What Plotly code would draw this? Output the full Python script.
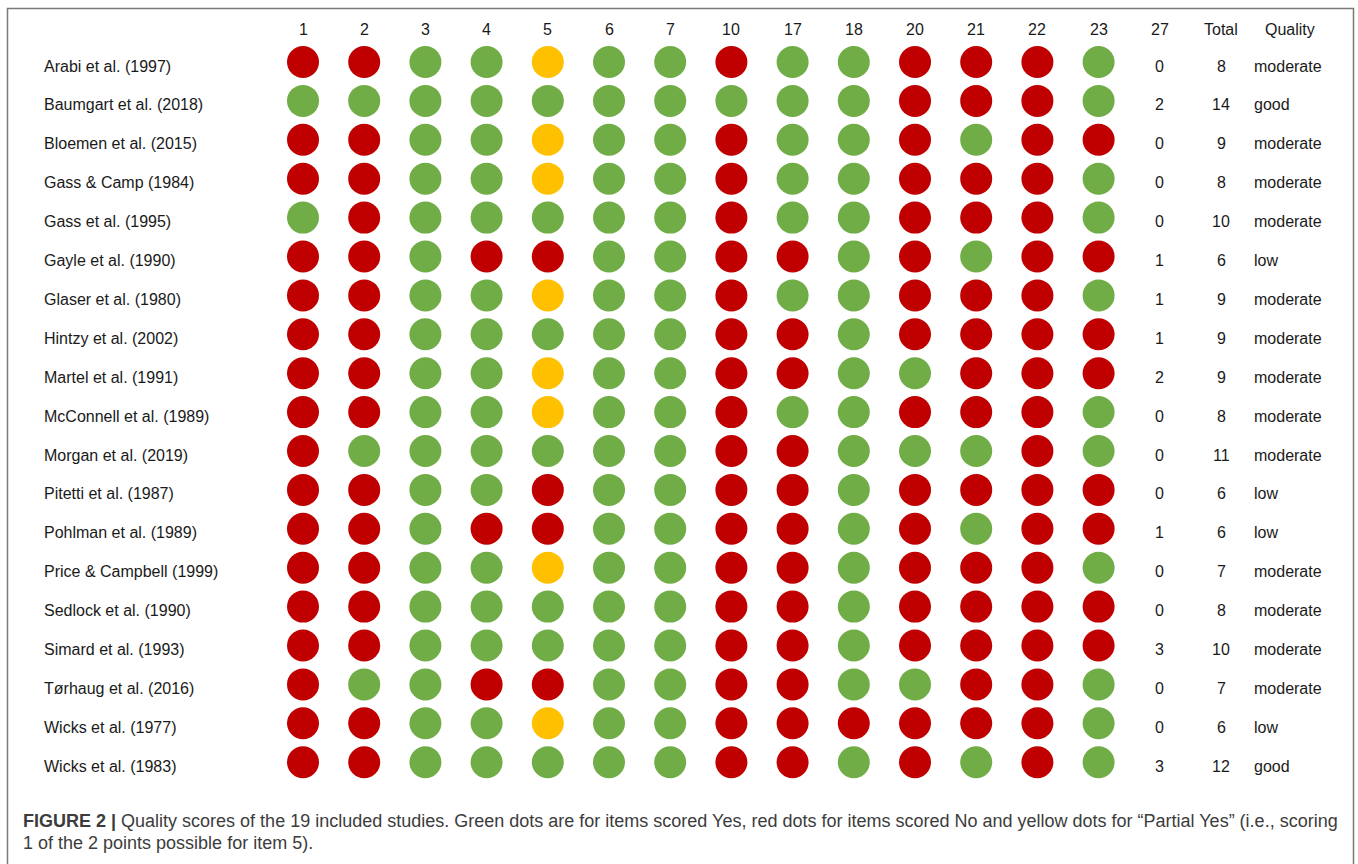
import plotly.graph_objects as go

studies = [
    "Arabi et al. (1997)", "Baumgart et al. (2018)", "Bloemen et al. (2015)",
    "Gass & Camp (1984)", "Gass et al. (1995)", "Gayle et al. (1990)",
    "Glaser et al. (1980)", "Hintzy et al. (2002)", "Martel et al. (1991)",
    "McConnell et al. (1989)", "Morgan et al. (2019)", "Pitetti et al. (1987)",
    "Pohlman et al. (1989)", "Price & Campbell (1999)", "Sedlock et al. (1990)",
    "Simard et al. (1993)", "Tørhaug et al. (2016)", "Wicks et al. (1977)",
    "Wicks et al. (1983)",
]
items = ["1", "2", "3", "4", "5", "6", "7", "10", "17", "18", "20", "21", "22", "23"]
# Y = Yes (green), N = No (red), P = Partial Yes (yellow); one string per study, one letter per item
scores = [
    "NNYYPYYNYYNNNY",
    "YYYYYYYYYYNNNY",
    "NNYYPYYNYYNYNN",
    "NNYYPYYNYYNNNY",
    "YNYYYYYNYYNNNY",
    "NNYNNYYNNYNYNN",
    "NNYYPYYNYYNNNY",
    "NNYYYYYNNYNNNN",
    "NNYYPYYNNYYNNN",
    "NNYYPYYNYYNNNY",
    "NYYYYYYNNYYYNY",
    "NNYYNYYNNYNNNN",
    "NNYNNYYNNYNYNN",
    "NNYYPYYNNYNNNY",
    "NNYYYYYNNYNNNN",
    "NNYYYYYNNYNNNN",
    "NYYNNYYNNYYNNY",
    "NNYYPYYNNNNNNY",
    "NNYYYYYNNYNYNY",
]
item27 = [0, 2, 0, 0, 0, 1, 1, 1, 2, 0, 0, 0, 1, 0, 0, 3, 0, 0, 3]
totals = [8, 14, 9, 8, 10, 6, 9, 9, 9, 8, 11, 6, 6, 7, 8, 10, 7, 6, 12]
quality = ["moderate", "good", "moderate", "moderate", "moderate", "low", "moderate",
           "moderate", "moderate", "moderate", "moderate", "low", "low", "moderate",
           "moderate", "moderate", "moderate", "low", "good"]
columns = items + ["27", "Total"]
caption_line1 = ("Quality scores of the 19 included studies. Green dots are for items scored Yes, "
                 "red dots for items scored No and yellow dots for \u201cPartial Yes\u201d (i.e., scoring")
caption_line2 = "1 of the 2 points possible for item 5)."

W, H = 1358, 864
FONT = "Liberation Sans, Arial, sans-serif"
CAP_FONT = "Liberation Sans, Arial, sans-serif"
colors = {"Y": "#70AD47", "N": "#C00000", "P": "#FFC000"}
names = {"Y": "Yes", "N": "No", "P": "Partial Yes"}

fig = go.Figure()
for code in ["Y", "N", "P"]:
    xs, ys = [], []
    for s, row in zip(studies, scores):
        for it, c in zip(items, row):
            if c == code:
                xs.append(it)
                ys.append(s)
    fig.add_trace(go.Scatter(x=xs, y=ys, mode="markers", name=names[code],
                             marker=dict(size=32, color=colors[code], line=dict(width=0)),
                             showlegend=False, hoverinfo="x+y+name"))

txtfont = dict(family=FONT, size=16, color="#1a1a1a")
capfont = dict(family=CAP_FONT, size=18, color="#3c3c3c")
col_idx = {c: i for i, c in enumerate(columns)}
row_idx = {s: j for j, s in enumerate(studies)}

annotations = []
# header row
for col in columns:
    annotations.append(dict(x=col_idx[col], xref="x", y=1 - 30 / H, yref="paper", text=col,
                            showarrow=False, font=txtfont, xanchor="center", yanchor="middle"))
annotations.append(dict(x=1290 / W, xref="paper", y=1 - 30 / H, yref="paper", text="Quality",
                        showarrow=False, font=txtfont, xanchor="center", yanchor="middle"))
# study labels, item 27, totals and quality
for s, v27, tot, q in zip(studies, item27, totals, quality):
    j = row_idx[s]
    annotations.append(dict(x=42 / W, xref="paper", y=j, yref="y", text=s, showarrow=False,
                            font=txtfont, xanchor="left", yanchor="middle", yshift=-4))
    annotations.append(dict(x=col_idx["27"], xref="x", y=j, yref="y", text=str(v27), showarrow=False,
                            font=txtfont, xanchor="center", yanchor="middle", yshift=-4))
    annotations.append(dict(x=col_idx["Total"], xref="x", y=j, yref="y", text=str(tot), showarrow=False,
                            font=txtfont, xanchor="center", yanchor="middle", yshift=-4))
    annotations.append(dict(x=1252 / W, xref="paper", y=j, yref="y", text=q, showarrow=False,
                            font=txtfont, xanchor="left", yanchor="middle", yshift=-4))
# caption
annotations.append(dict(x=21 / W, xref="paper", y=1 - 821 / H, yref="paper",
                        text="<b>FIGURE 2 |</b> " + caption_line1, showarrow=False,
                        font=capfont, xanchor="left", yanchor="middle"))
annotations.append(dict(x=21 / W, xref="paper", y=1 - 843 / H, yref="paper",
                        text=caption_line2, showarrow=False,
                        font=capfont, xanchor="left", yanchor="middle"))

col_step = 61.2
x0_px = 303
row_step = 38.9
y0_px = 62

fig.update_layout(
    width=W, height=H,
    margin=dict(l=0, r=0, t=0, b=0),
    paper_bgcolor="white", plot_bgcolor="white",
    xaxis=dict(type="category", categoryorder="array", categoryarray=columns,
               range=[-x0_px / col_step, (W - x0_px) / col_step],
               showgrid=False, zeroline=False, showticklabels=False, ticks="", fixedrange=True),
    yaxis=dict(type="category", categoryorder="array", categoryarray=studies,
               range=[(H - y0_px) / row_step, -y0_px / row_step],
               showgrid=False, zeroline=False, showticklabels=False, ticks="", fixedrange=True),
    annotations=annotations,
    shapes=[dict(type="rect", xref="paper", yref="paper",
                 x0=7.5 / W, x1=1353.5 / W, y0=-0.05, y1=1 - 8.5 / H,
                 line=dict(color="#7a7a7a", width=1.5), fillcolor="rgba(0,0,0,0)", layer="below")],
)

fig.write_html("out.html", config={"displayModeBar": False},
               post_script="document.body.style.margin='0';document.body.style.overflow='hidden';")
